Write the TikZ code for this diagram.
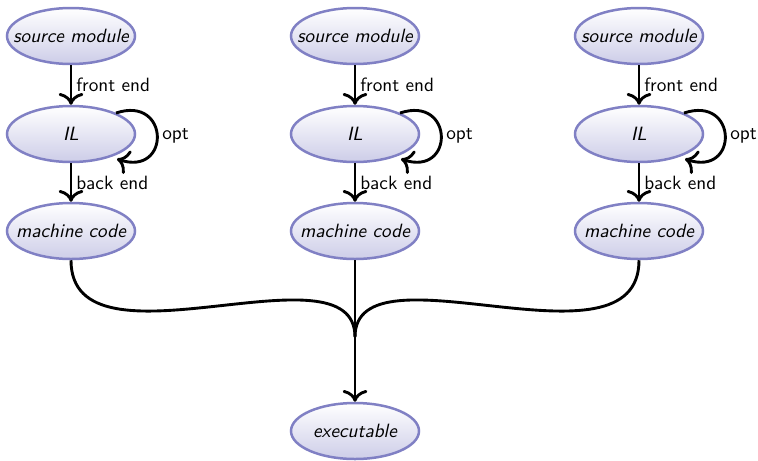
\documentclass[tikz,border=0pt]{standalone}
\usetikzlibrary{shapes.geometric,arrows.meta,calc}
\definecolor{nodeborder}{RGB}{128,128,196}
\definecolor{nodebottom}{RGB}{205,205,232}
% text of a stage, centred but not widening its ellipse
\newcommand{\stagetext}[1]{\makebox[0pt][c]{#1}}
\begin{document}
\begin{tikzpicture}[x=0.52pt,y=-0.52pt,
  font=\sffamily,
  stage/.style={ellipse, draw=nodeborder, line width=1.3pt,
    top color=white, bottom color=nodebottom,
    minimum width=128*0.52pt, minimum height=56*0.52pt, inner sep=0pt,
    font=\sffamily\itshape},
  arr/.style={-{To[scale=1.25]}, line width=1.5pt},
  flow/.style={line width=1.5pt},
  lbl/.style={right, inner sep=2pt, font=\sffamily}]
\useasboundingbox (0,0) rectangle (758,460);

% three compilation pipelines
\foreach \i/\x in {1/71, 2/355, 3/639} {
  \node[stage] (src\i) at (\x,36)  {\stagetext{source module}};
  \node[stage] (il\i)  at (\x,134) {\stagetext{IL}};
  \node[stage] (mc\i)  at (\x,231) {\stagetext{machine code}};
  \draw[arr] (src\i) -- node[lbl] {front end} (il\i);
  \draw[arr] (il\i) -- node[lbl] {back end} (mc\i);
  \draw[arr] ($(il\i)+(45,-21)$) .. controls +(54,-18) and +(54,18) ..
    node[lbl] {opt} ($(il\i)+(46,25)$);
}

% linking into one executable
\node[stage] (exe) at (355,431) {\stagetext{executable}};
\coordinate (join) at (355,337);
\draw[flow] (mc1.south) .. controls +(0,118) and +(0,-97) .. (join);
\draw[flow] (mc3.south) .. controls +(0,118) and +(0,-97) .. (join);
\draw[arr] (mc2) -- (exe);
\end{tikzpicture}
\end{document}
